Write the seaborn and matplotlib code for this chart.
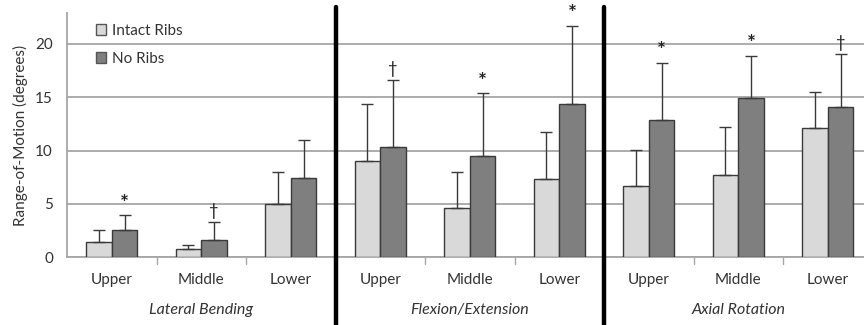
import pandas as pd
import numpy as np
import matplotlib
matplotlib.use("Agg")
import matplotlib.pyplot as plt
import seaborn as sns
from matplotlib.patches import Patch

# --- data ---
motions = ["Lateral Bending", "Flexion/Extension", "Axial Rotation"]
regions = ["Upper", "Middle", "Lower"]
conditions = ["Intact Ribs", "No Ribs"]

intact_mean = [1.4, 0.75, 5.0, 9.0, 4.6, 7.3, 6.65, 7.7, 12.1]
intact_sd = [1.2, 0.4, 2.95, 5.4, 3.4, 4.45, 3.45, 4.55, 3.4]
noribs_mean = [2.55, 1.6, 7.4, 10.3, 9.5, 14.4, 12.9, 14.95, 14.1]
noribs_sd = [1.4, 1.7, 3.55, 6.3, 5.9, 7.3, 5.35, 3.95, 4.95]
signif = ["*", "†", "", "†", "*", "*", "*", "*", "†"]

keys = [m + "|" + r for m in motions for r in regions]
df = pd.DataFrame({
    "key": keys * 2,
    "condition": [conditions[0]] * 9 + [conditions[1]] * 9,
    "value": intact_mean + noribs_mean,
    "sd": intact_sd + noribs_sd,
})

sns.set_theme(style="white")
plt.rcParams["font.family"] = ["Lato", "DejaVu Sans"]

fig = plt.figure(figsize=(8.64, 3.25), dpi=100)
ax = fig.add_axes([67 / 864, 67.7 / 325, 1 - 67 / 864, 244.3 / 325])

palette = {"Intact Ribs": "#d9d9d9", "No Ribs": "#7f7f7f"}
sns.barplot(data=df, x="key", y="value", hue="condition", order=keys,
            hue_order=conditions, palette=palette, width=0.57,
            edgecolor="#3a3a3a", linewidth=1.0, errorbar=None, ax=ax,
            legend=False, zorder=3)

# upward-only error bars placed on the bars seaborn drew
for cont, sds in zip(ax.containers, [intact_sd, noribs_sd]):
    xs = [p.get_x() + p.get_width() / 2 for p in cont]
    ys = [p.get_height() for p in cont]
    ax.errorbar(xs, ys, yerr=[np.zeros(len(sds)), sds], fmt="none",
                ecolor="#3a3a3a", elinewidth=1.0, capsize=4, capthick=1.0,
                zorder=4)
    if cont is ax.containers[1]:
        for x, y, s, mark in zip(xs, ys, sds, signif):
            if mark == "*":
                ax.annotate(mark, (x, y + s), xytext=(0, 1),
                            textcoords="offset points", ha="center",
                            va="bottom", fontsize=15, fontweight="bold",
                            color="#222222")
            elif mark:
                ax.annotate(mark, (x, y + s), xytext=(0, 2),
                            textcoords="offset points", ha="center",
                            va="bottom", fontsize=12, color="#222222")

ax.set_ylim(0, 22.9)
ax.set_xlim(-0.5, 8.405)
ax.set_yticks([0, 5, 10, 15, 20])
ax.yaxis.grid(True, color="#a6a6a6", linewidth=1.3, zorder=0)
ax.set_axisbelow(True)
ax.tick_params(axis="y", labelsize=11, colors="#333333", length=3.6,
               width=1.3, color="#a6a6a6", pad=6.5)
ax.set_xticks(range(9))
ax.set_xticklabels(regions * 3, fontsize=11, color="#333333")
ax.tick_params(axis="x", length=0, pad=11)
for b in [0.5, 1.5, 3.5, 4.5, 6.5, 7.5]:
    ax.plot([b, b], [0, -0.6], color="#a6a6a6", lw=1, clip_on=False)

for side in ["top", "right"]:
    ax.spines[side].set_visible(False)
for side in ["left", "bottom"]:
    ax.spines[side].set_color("#a6a6a6")
    ax.spines[side].set_linewidth(1.3)

ax.set_xlabel("")
ax.set_ylabel("Range-of-Motion (degrees)", fontsize=11, color="#333333",
              labelpad=5)

# group labels and thick dividers
for i, m in enumerate(motions):
    ax.text(3 * i + 1, -0.215, m, transform=ax.get_xaxis_transform(),
            ha="center", va="center", fontsize=11.5, style="italic",
            color="#333333")
for b in [2.5, 5.5]:
    ax.axvline(b, ymin=-0.277, ymax=1.025, color="black", lw=3.2,
               clip_on=False, zorder=5)

handles = [Patch(facecolor=palette[c], edgecolor="#555555", linewidth=1.0)
           for c in conditions]
ax.legend(handles, conditions, loc="upper left",
          bbox_to_anchor=(88 / 864, 1 - 16 / 325),
          bbox_transform=fig.transFigure, frameon=False, fontsize=11,
          handlelength=0.7, handleheight=0.7, handletextpad=0.35,
          labelspacing=0.95, borderpad=0, labelcolor="#333333")

fig.savefig("out.png", dpi=100)
